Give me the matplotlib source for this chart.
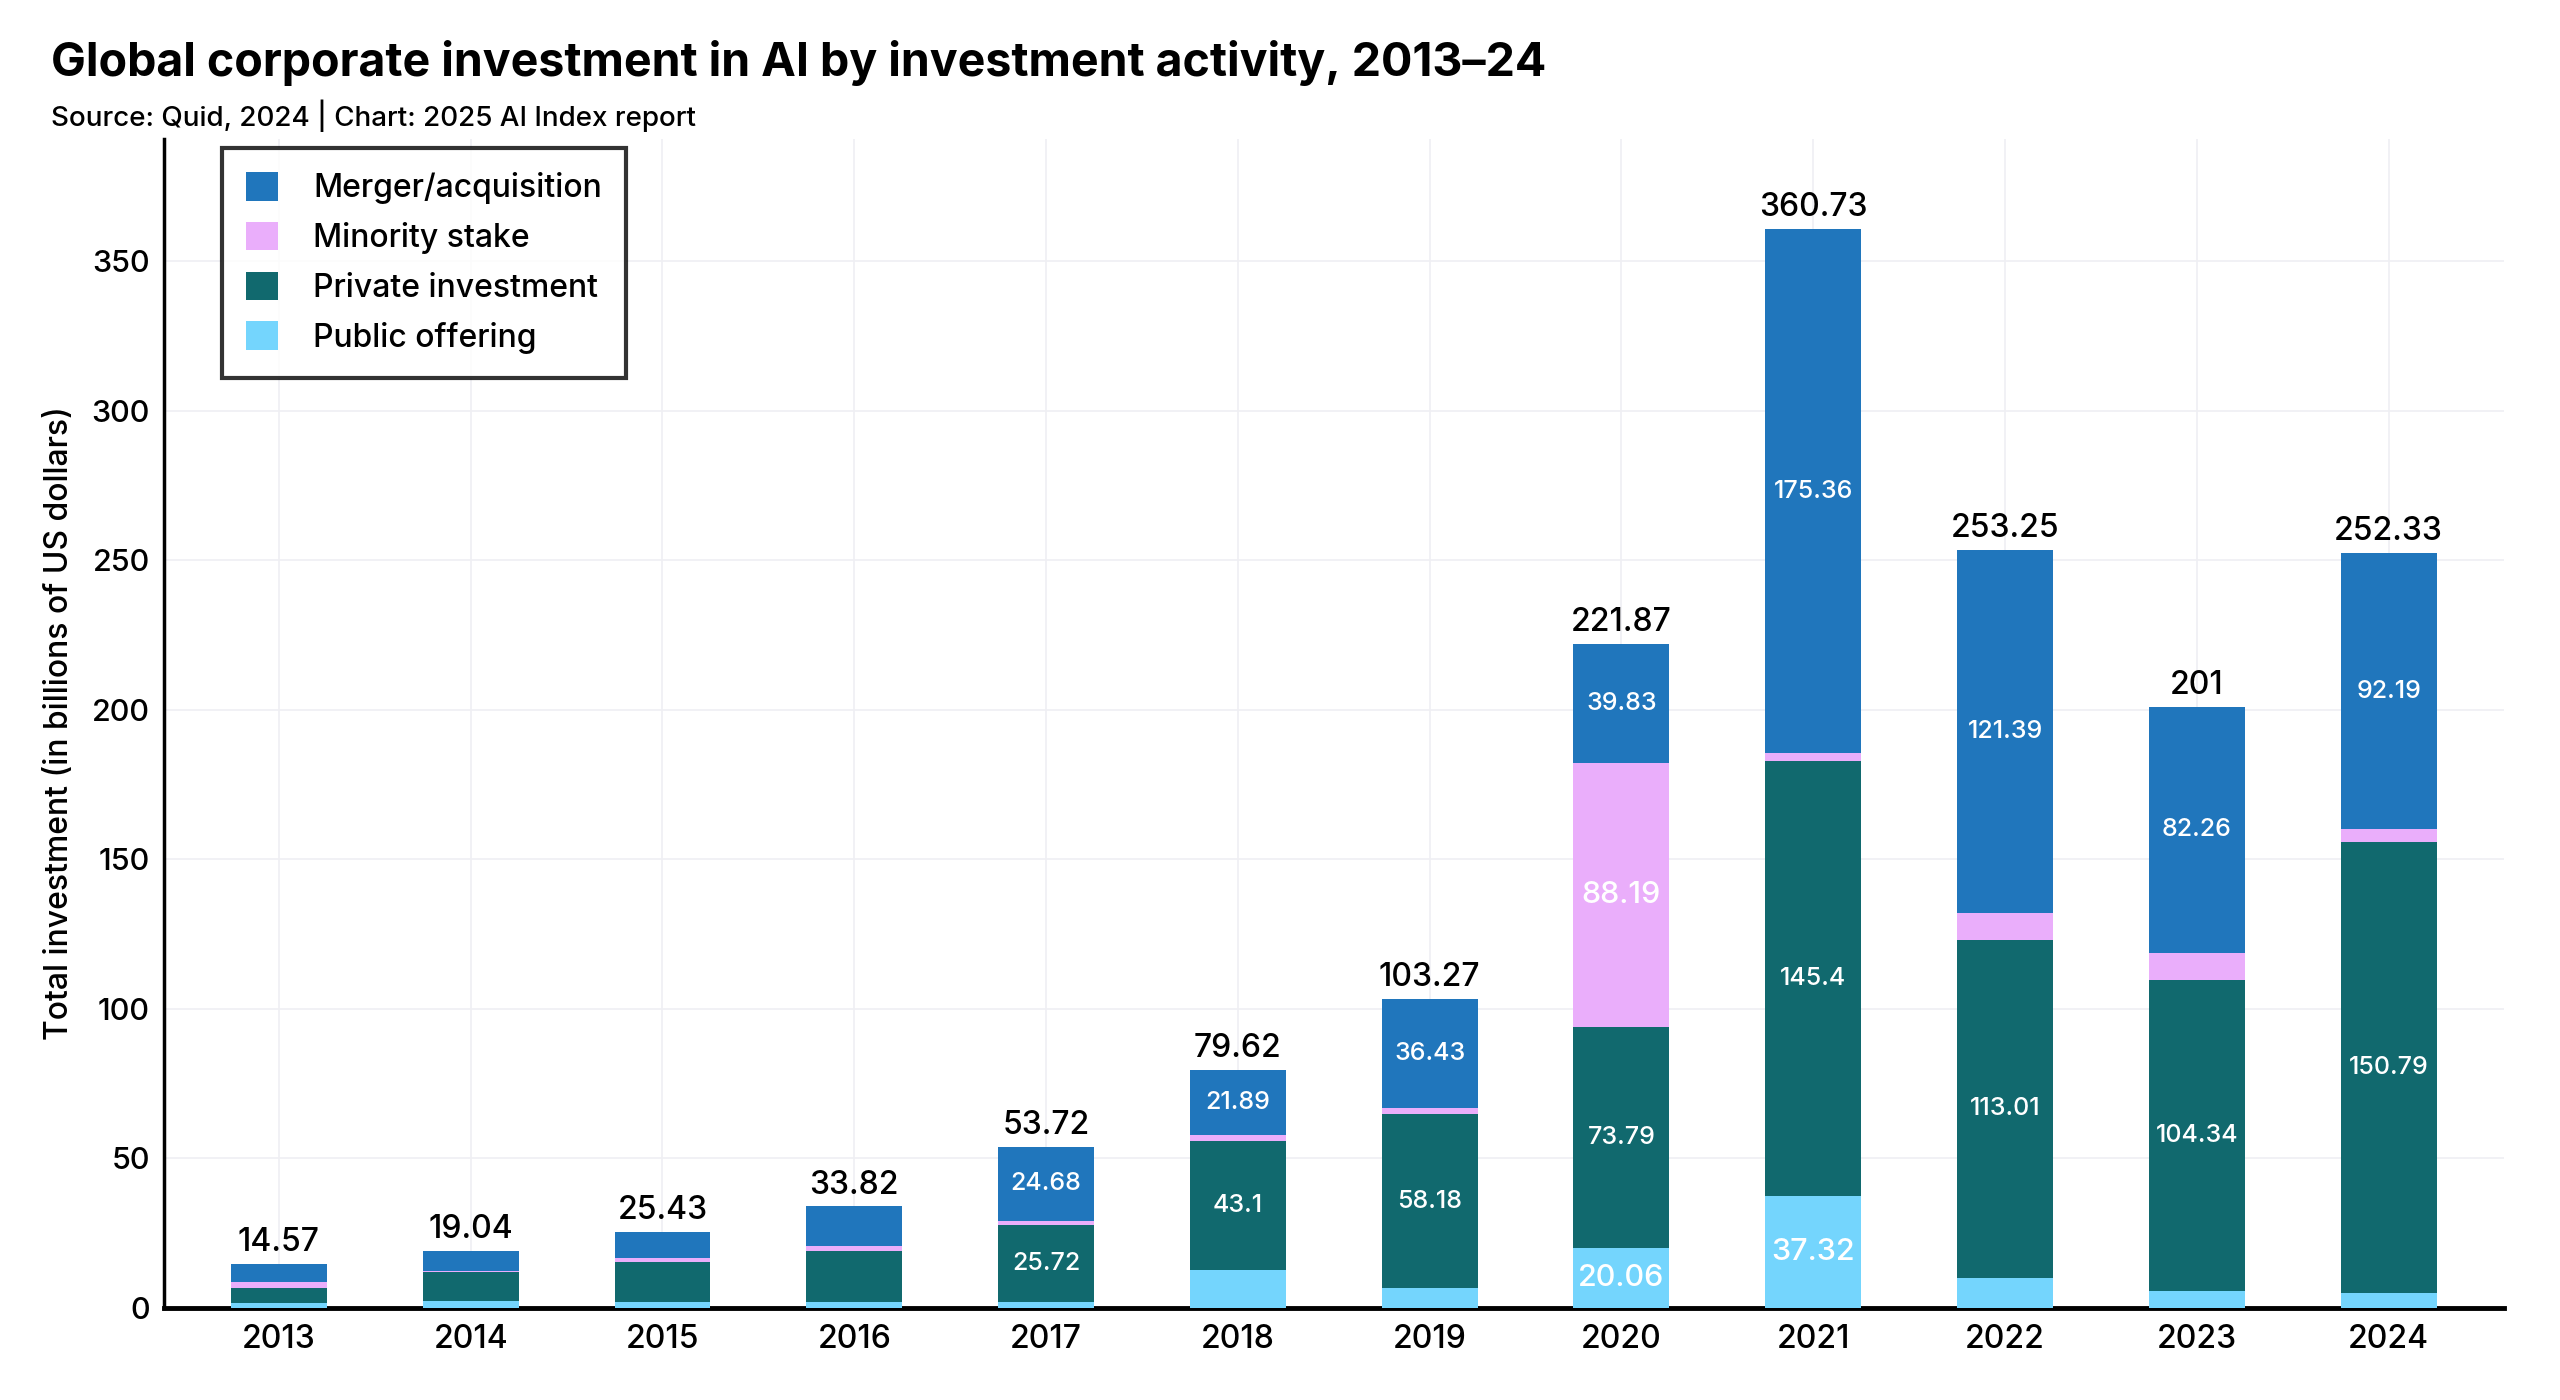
import matplotlib.pyplot as plt
import numpy as np

plt.rcParams['font.family'] = ['Inter', 'DejaVu Sans']

years = ['2013', '2014', '2015', '2016', '2017', '2018', '2019', '2020', '2021', '2022', '2023', '2024']
public_offering = [1.45, 2.20, 1.90, 1.90, 2.00, 12.60, 6.50, 20.06, 37.32, 10.00, 5.40, 5.00]
private_investment = [5.00, 9.60, 13.30, 17.10, 25.72, 43.10, 58.18, 73.79, 145.40, 113.01, 104.34, 150.79]
minority_stake = [2.02, 0.45, 1.30, 1.70, 1.32, 2.03, 2.16, 88.19, 2.65, 8.85, 9.00, 4.35]
merger_acquisition = [6.10, 6.79, 8.93, 13.12, 24.68, 21.89, 36.43, 39.83, 175.36, 121.39, 82.26, 92.19]

series = [
    ('Public offering', public_offering, '#74D5FD', 22),
    ('Private investment', private_investment, '#11696E', 18),
    ('Minority stake', minority_stake, '#EAAEFB', 22),
    ('Merger/acquisition', merger_acquisition, '#2076BC', 18),
]


def fmt(v):
    return f'{v:.2f}'.rstrip('0').rstrip('.')


fig = plt.figure(figsize=(25.6, 14), dpi=100)
ax = fig.add_axes([0.064, 0.066, 0.914, 0.835])

x = np.arange(len(years))
bottom = np.zeros(len(years))
handles = {}
for name, vals, color, fs in series:
    vals = np.array(vals)
    b = ax.bar(x, vals, 0.5, bottom=bottom, color=color, zorder=3, linewidth=0)
    handles[name] = b
    for xi, v, b0 in zip(x, vals, bottom):
        if v >= 20:
            ax.text(xi, b0 + v / 2, fmt(v), ha='center', va='center',
                    color='white', fontsize=fs, fontweight='medium', zorder=4)
    bottom = bottom + vals

for xi, t in zip(x, bottom):
    ax.text(xi, t + 2, fmt(round(t, 2)), ha='center', va='bottom',
            fontsize=23, fontweight='medium', color='black', zorder=4)

ax.set_xlim(-0.6, 11.6)
ax.set_ylim(0, 391)
ax.set_yticks(np.arange(0, 351, 50))
ax.set_xticks(x)
ax.set_xticklabels(years)
ax.tick_params(axis='x', length=0, pad=12, labelsize=23)
ax.tick_params(axis='y', length=0, pad=10, labelsize=22)
for lab in ax.get_xticklabels() + ax.get_yticklabels():
    lab.set_fontweight('medium')
ax.grid(True, color='#efeff3', linewidth=1.2, zorder=0)
ax.set_axisbelow(True)

for s in ['top', 'right']:
    ax.spines[s].set_visible(False)
ax.spines['left'].set_linewidth(2.5)
ax.spines['bottom'].set_linewidth(3.5)

ax.set_ylabel('Total investment (in billions of US dollars)', fontsize=23,
              fontweight='medium', labelpad=12)

order = ['Merger/acquisition', 'Minority stake', 'Private investment', 'Public offering']
leg = ax.legend([handles[n] for n in order], order, loc='upper left',
                bbox_to_anchor=(0.025, 0.992), borderaxespad=0,
                prop={'size': 23, 'weight': 'medium'},
                frameon=True, fancybox=False, edgecolor='black',
                handlelength=1.0, handleheight=1.0, handletextpad=1.1,
                labelspacing=0.55, borderpad=0.75)
leg.get_frame().set_linewidth(3)

fig.text(0.02, 0.955, 'Global corporate investment in AI by investment activity, 2013–24',
         fontsize=33.5, fontweight='bold', va='center', ha='left')
fig.text(0.02, 0.917, 'Source: Quid, 2024 | Chart: 2025 AI Index report',
         fontsize=20, fontweight='medium', va='center', ha='left')

fig.savefig('out.png', dpi=100)
